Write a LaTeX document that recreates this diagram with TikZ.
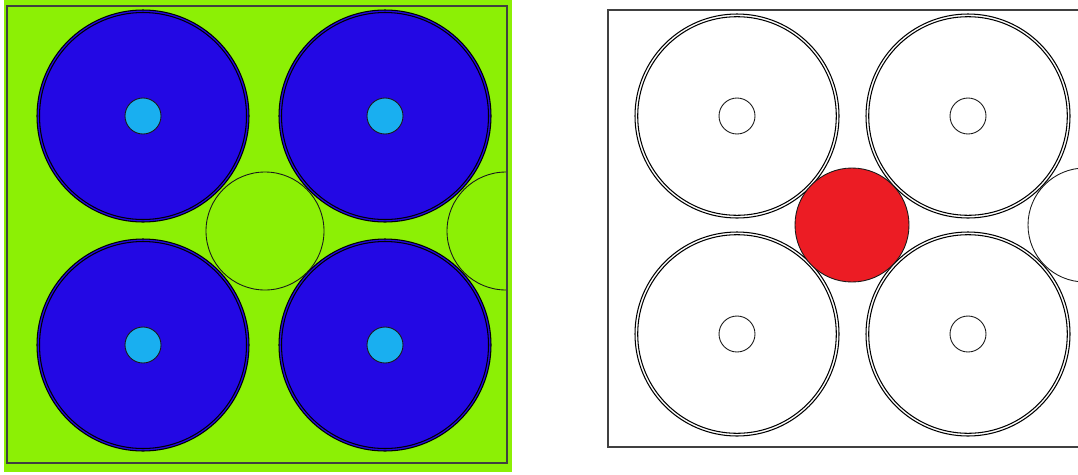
\documentclass[tikz,border=0pt]{standalone}
\usepackage{tikz}
\definecolor{grass}{RGB}{140,240,5}
\definecolor{rodblue}{RGB}{35,8,228}
\definecolor{coreblue}{RGB}{25,175,240}
\definecolor{gapred}{RGB}{236,28,36}

\begin{document}
\begin{tikzpicture}[x=0.02cm, y=-0.02cm,
    ring/.style={draw=black, line width=0.6pt},
    thinline/.style={draw=black!90, line width=0.5pt},
    frame/.style={draw=black!75, line width=0.8pt}]
  \useasboundingbox (0,0) rectangle (1078,474);

  % left panel: filled pins
  \fill[grass] (4,0) rectangle (512,472);
  \begin{scope}
    \clip (7,6) rectangle (507,463);
    \foreach \cx/\cy in {143/116, 385/116, 143/345, 385/345} {
      \fill[rodblue] (\cx,\cy) circle (106);
      \draw[ring] (\cx,\cy) circle (106);
      \draw[ring] (\cx,\cy) circle (103.5);
      \filldraw[fill=coreblue, thinline] (\cx,\cy) circle (18);
    }
    \draw[thinline] (265,231) circle (59);
    \draw[thinline] (506,231) circle (59);
  \end{scope}
  \draw[frame] (7,6) rectangle (507,463);

  % right panel: outlines only
  \begin{scope}
    \clip (608,10) rectangle (1078,447);
    \foreach \cx/\cy in {737/116, 968/116, 737/334, 968/334} {
      \draw[ring] (\cx,\cy) circle (102);
      \draw[ring] (\cx,\cy) circle (99.3);
      \draw[thinline] (\cx,\cy) circle (18);
    }
    \filldraw[fill=gapred, thinline] (852,225) circle (57);
    \draw[thinline] (1085,225) circle (57);
  \end{scope}
  \draw[frame] (1090,10) -- (608,10) -- (608,447) -- (1090,447);
\end{tikzpicture}
\end{document}
